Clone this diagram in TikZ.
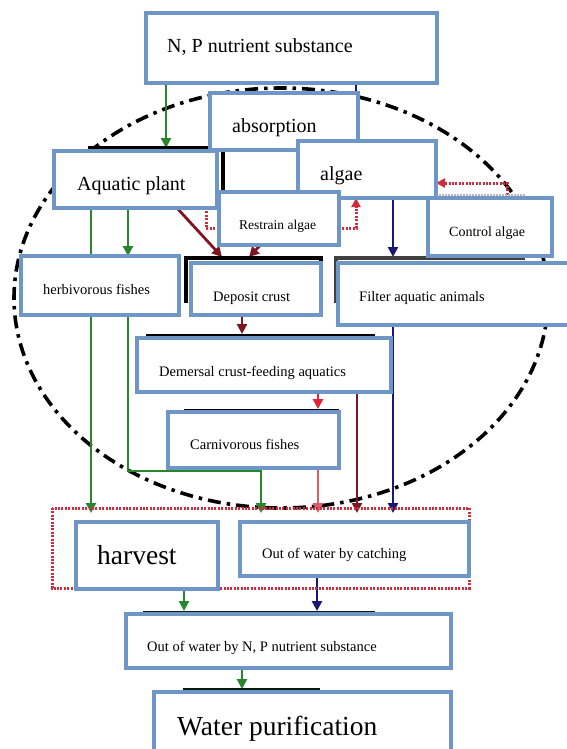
\documentclass[tikz,border=0pt]{standalone}
\usepackage{fontspec}
\setmainfont{Liberation Serif}
\usetikzlibrary{arrows.meta,calc}
\definecolor{boxblue}{RGB}{110,150,198}
\definecolor{fgreen}{RGB}{40,135,45}
\definecolor{navyc}{RGB}{25,25,115}
\definecolor{maroonc}{RGB}{125,22,32}
\definecolor{crimsonc}{RGB}{228,35,55}
\definecolor{pinkred}{RGB}{215,95,105}
\definecolor{dotred}{RGB}{205,45,60}
\pgfdeclarelayer{ell}
\pgfdeclarelayer{bg}
\pgfsetlayers{ell,bg,main}
\begin{document}
\begin{tikzpicture}[x=1pt,y=-1pt,
  box/.style={draw=boxblue,line width=3.2pt,fill=white,inner sep=0pt,outer sep=0pt,anchor=north west},
  lbl/.style={anchor=base west,inner sep=0pt,font=\fontsize{20}{24}\selectfont},
  lbls/.style={anchor=base west,inner sep=0pt,font=\fontsize{14.5}{17}\selectfont},
  lblb/.style={anchor=base west,inner sep=0pt,font=\fontsize{27.5}{32}\selectfont},
  arr/.style={line width=2.8pt,-{Triangle[length=10pt,width=10pt]}},
  plain/.style={line width=2.8pt},
  remnant/.style={draw=black,line width=3.2pt},
  dotline/.style={dotred,line width=3pt,dash pattern=on 2pt off 1.4pt},
  dotarr/.style={dotline,-{Triangle[length=9pt,width=9pt]}},
]
\useasboundingbox (0,0) rectangle (566,749);

% boxes
\node[box,minimum width=291pt,minimum height=70pt] (np) at (146,13) {};
\node[box,minimum width=148pt,minimum height=57pt] (abs) at (210,93) {};
\node[box,minimum width=138pt,minimum height=57pt] (alg) at (298,141) {};
\node[box,minimum width=163pt,minimum height=57pt] (aqp) at (54,151) {};
\node[box,minimum width=120pt,minimum height=53pt] (res) at (219,192) {};
\node[box,minimum width=124pt,minimum height=58pt] (con) at (428,198) {};
\node[box,minimum width=158pt,minimum height=59pt] (herb) at (21,256) {};
\node[box,minimum width=130pt,minimum height=52pt] (dep) at (191,263) {};
\node[box,minimum width=232pt,minimum height=62pt] (fil) at (338,263) {};
\node[box,minimum width=254pt,minimum height=54pt] (dem) at (137,338) {};
\node[box,minimum width=171pt,minimum height=56pt] (car) at (168,412) {};
\node[box,minimum width=142pt,minimum height=67pt] (har) at (76,522) {};
\node[box,minimum width=229pt,minimum height=54pt] (cat) at (240,522) {};
\node[box,minimum width=325pt,minimum height=54pt] (onp) at (126,614) {};
\node[box,minimum width=297pt,minimum height=70pt] (wp) at (154,692) {};

% texts
\node[lbl] (npT) at (167,53) {N, P nutrient substance};
\node[lbl] (absT) at (232,132) {absorption};
\node[lbl] (aqpT) at (77,190) {Aquatic plant};
\node[lbl] (algT) at (320,180) {algae};
\node[lbls,font=\fontsize{13.5}{16}\selectfont] (resT) at (239,229) {Restrain algae};
\node[lbls,font=\fontsize{14}{16}\selectfont] (conT) at (449,236) {Control algae};
\node[lbls] (herbT) at (43,294) {herbivorous fishes};
\node[lbls] (depT) at (213,301) {Deposit crust};
\node[lbls] (filT) at (359,301) {Filter aquatic animals};
\node[lbls] (demT) at (159,376) {Demersal crust-feeding aquatics};
\node[lbls] (carT) at (190,449) {Carnivorous fishes};
\node[lblb] (harT) at (97,564) {harvest};
\node[lbls] (catT) at (262,558) {Out of water by catching};
\node[lbls] (onpT) at (147,651) {Out of water by N, P nutrient substance};
\node[lblb] (wpT) at (177,735) {Water purification};

% dash-dot ellipse
\begin{pgfonlayer}{ell}
\draw[line width=3.6pt,dash pattern=on 13pt off 6pt on 3.5pt off 6pt]
  (281,298) ellipse [x radius=267pt, y radius=210pt];
\end{pgfonlayer}

\begin{pgfonlayer}{bg}
% connectors
\draw[arr,fgreen] (166,0 |- np.south) -- ($(166,0 |- aqp.north)+(0,-3)$);
\draw[plain,navyc] (356,0 |- np.south) -- (356,0 |- alg.north);
\draw[arr,fgreen] (91,0 |- aqp.south) -- ($(91,0 |- har.north)+(0,-9)$);
\draw[arr,fgreen] (128,0 |- aqp.south) -- (128,0 |- herb.north);
\draw[arr,fgreen] (128,0 |- herb.south) -- ($(128,0 |- car.south)+(0,3)$)
  -| ($(261,0 |- cat.north)+(0,-9)$);
\draw[arr,maroonc] ($(aqp.south east)+(-40,0)$) -- ($(222,0 |- dep.north)+(0,-6)$);
\draw[arr,maroonc] ($(alg.south west)+(8,0)$) -- ($(249,0 |- dep.north)+(0,-6)$);
\draw[dotline] (206,0 |- aqp.south) |- (res.west |- 0,228);
\draw[dotarr] (res.east |- 0,228) -| (356,0 |- alg.south);
\draw[dotarr] (507,0 |- con.north) |- (alg.east |- 0,183);
\draw[gray!55,line width=1.8pt,dash pattern=on 1.5pt off 1.5pt] (439,195) -- (525,195);
\draw[arr,navyc] (393,0 |- alg.south) -- ($(393,0 |- fil.north)+(0,-6)$);
\draw[arr,navyc] (393,0 |- fil.south) -- ($(393,0 |- cat.north)+(0,-9)$);
\draw[arr,maroonc] (242,0 |- dep.south) -- ($(242,0 |- dem.north)+(0,-4)$);
\draw[arr,crimsonc] (318,0 |- dem.south) -- ($(318,0 |- car.north)+(0,-3)$);
\draw[arr,pinkred] (318,0 |- car.south) -- ($(318,0 |- cat.north)+(0,-9)$);
\draw[arr,maroonc] (357,0 |- dem.south) -- ($(357,0 |- cat.north)+(0,-9)$);
\draw[arr,fgreen] (184,0 |- har.south) -- ($(184,0 |- onp.north)+(0,-3)$);
\draw[arr,navyc] (317,0 |- cat.south) -- ($(317,0 |- onp.north)+(0,-3)$);
\draw[arr,fgreen] (242,0 |- onp.south) -- ($(242,0 |- wp.north)+(0,-3)$);
% remnant black edges behind boxes
\draw[remnant] (88,148) -- (223,148) -- (223,190);
\draw[remnant,line width=4.5pt] (186,303) -- (186,258) -- (321,258) -- (321,264);
\draw[remnant,draw=black!75] (336,303) -- (336,258) -- (525,258);
\draw[remnant,line width=2.2pt] (146,335) -- (375,335);
\draw[remnant,line width=2.2pt] (184,410) -- (339,410);
\draw[remnant,line width=2.2pt,draw=black!80!fgreen] (143,612) -- (375,612);
\draw[remnant,line width=2.2pt,draw=black!80!fgreen] (183,689) -- (320,689);
% red dotted frame
\draw[dotline] (52,508) rectangle (469,588);
\end{pgfonlayer}
\end{tikzpicture}
\end{document}
